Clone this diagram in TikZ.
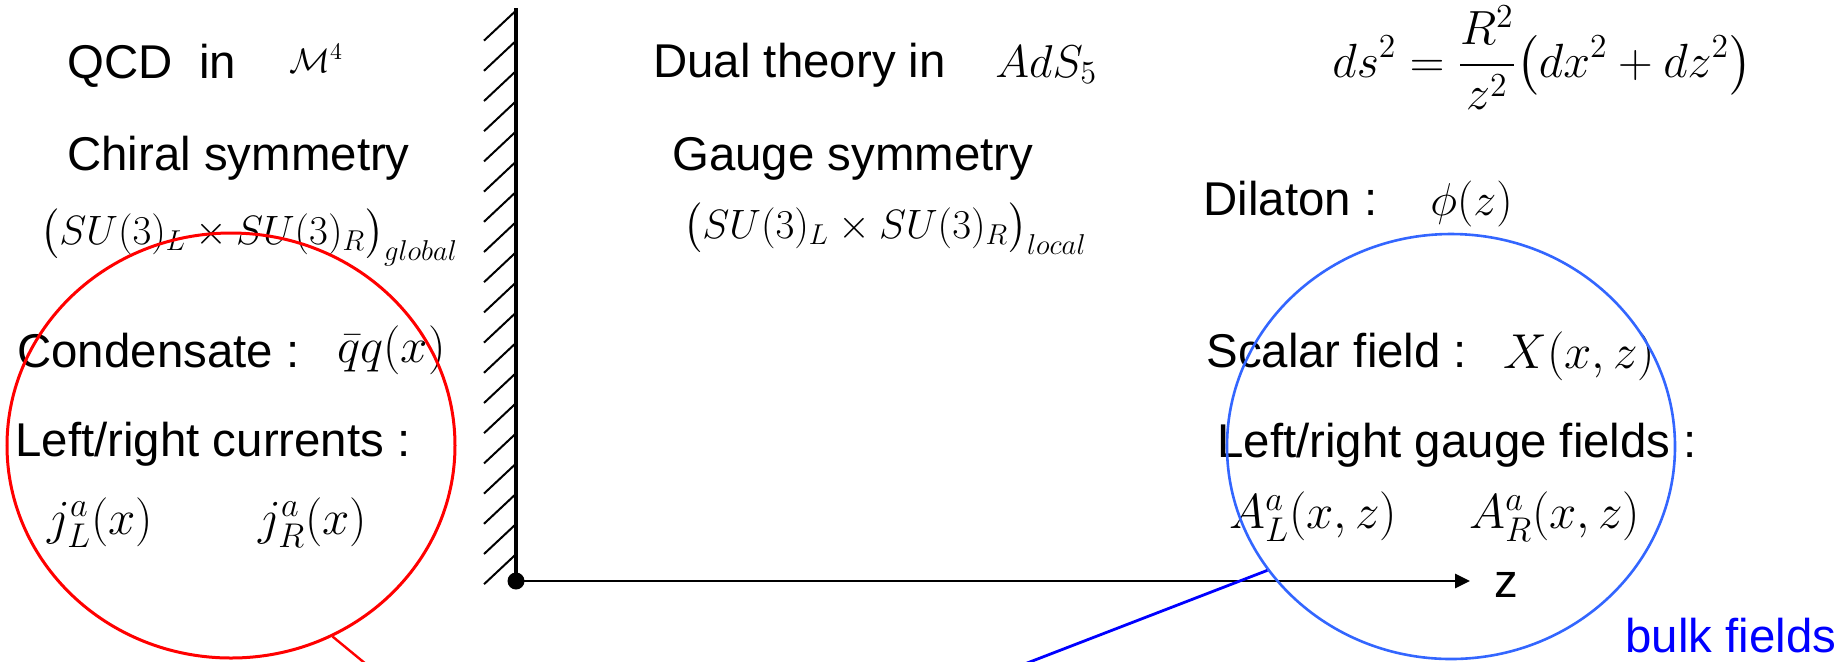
\RequirePackage{fix-cm}
\documentclass[tikz,border=0pt]{standalone}
\usepackage{amsmath}
\usepackage[no-math]{fontspec}
\setmainfont{Liberation Sans}
\usetikzlibrary{shapes.geometric,arrows.meta}
\definecolor{circblue}{RGB}{51,102,255}
\begin{document}
\begin{tikzpicture}[x=0.5pt,y=-0.5pt,
  txt/.style={anchor=base west,inner sep=0pt,font=\fontsize{23.7}{28}\selectfont},
  mth/.style={anchor=base west,inner sep=0pt,font=\fontsize{24.5}{29}\selectfont},
  hatch/.style={line width=1pt},
  callout/.style={draw,ellipse,inner sep=0pt,minimum width=224pt,minimum height=212.5pt}]
\clip (0,0) rectangle (1847,661);
\fill[white] (0,0) rectangle (1847,661);
% ---- boundary (wall) and z axis
\coordinate (walltop) at (516,8);
\coordinate (orig) at (516,581);
\coordinate (ztip) at (1470,581);
\foreach \k in {0,...,18}{
  \draw[hatch] (484,{40.6+30.2*\k}) -- (516,{10.6+30.2*\k});
}
\draw[line width=2.4pt] (walltop) -- (orig);
\draw[line width=1.35pt,-{Triangle[length=7.5pt,width=7pt]}] (orig) -- (ztip);
\node[fill=black,circle,inner sep=0pt,minimum size=8.5pt] (dot) at (orig) {};
\node[txt] (zlab) at (1494,597) {z};
% ---- 4D side
\node[txt] (qcd) at (67,78) {QCD\ \ in};
\node[mth,font=\fontsize{17}{20}\selectfont] (m4) at (289,72) {$\mathcal{M}^4$};
\node[txt] (chiral) at (67,170) {Chiral symmetry};
\node[mth,font=\fontsize{20.5}{25}\selectfont] (glob) at (40,244) {$\bigl(SU(3)_L\times SU(3)_R\bigr)_{global}$};
\node[txt] (cond) at (17,367) {Condensate :};
\node[mth] (qq) at (337,362) {$\bar q q(x)$};
\node[txt] (lrc) at (15,456) {Left/right currents :};
\node[mth] (jl) at (47,534) {$j^a_L(x)$};
\node[mth] (jr) at (258,534) {$j^a_R(x)$};
% ---- 5D side
\node[txt] (dual) at (653,77) {Dual theory in};
\node[mth,font=\fontsize{23}{28}\selectfont] (ads) at (995,77) {$AdS_5$};
\node[txt] (gauge) at (672,170) {Gauge symmetry};
\node[mth,font=\fontsize{20.5}{25}\selectfont] (loc) at (683,238) {$\bigl(SU(3)_L\times SU(3)_R\bigr)_{local}$};
\node[mth,font=\fontsize{24}{29}\selectfont] (metric) at (1332,77) {$\displaystyle ds^2=\frac{R^2}{z^2}\bigl(dx^2+dz^2\bigr)$};
\node[txt] (dil) at (1203,215) {Dilaton :};
\node[mth,font=\fontsize{23}{27}\selectfont] (phi) at (1430,215) {$\phi(z)$};
\node[txt] (scal) at (1206,367) {Scalar field :};
\node[mth] (X) at (1503,368) {$X(x,z)$};
\node[txt] (lrg) at (1217,457) {Left/right gauge fields :};
\node[mth] (AL) at (1229,528) {$A^a_L(x,z)$};
\node[mth] (AR) at (1469,528) {$A^a_R(x,z)$};
\node[txt,text=blue] (bulk) at (1625,652) {bulk fields};
% ---- callout circles and their lines
\node[callout,draw=red,line width=1.5pt] (redc) at (231,445.5) {};
\node[callout,draw=circblue,line width=1.3pt] (bluec) at (1451,446.5) {};
\coordinate (redend) at (372,669);
\coordinate (blueend) at (1009,670);
\draw[red,line width=1.2pt] (redc.-62.5) -- (redend);
\draw[blue,line width=1.4pt] (bluec.-146.4) -- (blueend);
\end{tikzpicture}
\end{document}
